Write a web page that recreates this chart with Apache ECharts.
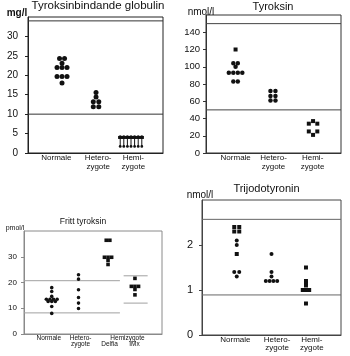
<!DOCTYPE html>
<html><head><meta charset="utf-8">
<script src="https://cdn.jsdelivr.net/npm/echarts@6/dist/echarts.min.js"></script>
<style>html,body{margin:0;padding:0;background:#fff}#c{width:350px;height:356px}</style>
</head><body><div id="c"></div>
<script>
// ---------------- DATA ----------------
// Panel 1: Tyroksinbindande globulin (mg/l)
const tbgCategories = ['Normale', 'Hetero-\nzygote', 'Hemi-\nzygote'];
const tbgNormale = [24.3, 24.3, 23.1, 22, 22, 22, 19.7, 19.7, 19.7, 18];
const tbgHetero = [15.6, 14.4, 13.2, 13.2, 11.9, 11.9];
const tbgHemi = [4, 4, 4, 4, 4, 4, 4];          // under deteksjonsgrensen (< 4)
const tbgRefLines = [10, 34];
const tbgTicks = [0, 5, 10, 15, 20, 25, 30];
const tbgMax = 35;

// Panel 2: Tyroksin (nmol/l)
const t4Categories = ['Normale', 'Hetero-\nzygote', 'Hemi-\nzygote'];
const t4NormaleCircles = [104, 104, 100, 93, 93, 93, 93, 83, 83];
const t4NormaleSquares = [120];
const t4Hetero = [72, 72, 66, 66, 61, 61];
const t4Hemi = [37, 34, 34, 25, 25, 21];
const t4RefLines = [50, 150];
const t4Ticks = [0, 20, 40, 60, 80, 100, 120, 140];
const t4Max = 160;

// Panel 3: Fritt tyroksin (pmol/l)
const ft4Categories = ['Normale', 'Hetero-\nzygote', '\nDelfia', 'Hemizygote', '\nIMx'];
const ft4Normale = [18, 16.5, 14.6, 13.5, 13.5, 13.5, 13.5, 12.6, 12.6, 12.6, 10.7, 8];
const ft4Hetero = [23, 21.3, 17.2, 14.2, 12, 9.9];
const ft4Delfia = [36.4, 36.4, 29.8, 29.8, 29.8, 28.6, 27];
const ft4Imx = [21.6, 18.5, 18.5, 18.5, 17.3, 15.2];
const ft4RefDelfia = [8.2, 20.7];
const ft4RefImx = [12, 22.6];
const ft4Ticks = [0, 10, 20, 30];
const ft4Max = 40;

// Panel 4: Trijodotyronin (nmol/l)
const t3Categories = ['Normale', 'Hetero-\nzygote', 'Hemi-\nzygote'];
const t3NormaleSquares = [2.4, 2.4, 2.3, 2.3, 1.8];
const t3NormaleCircles = [2.1, 2.0, 1.4, 1.4, 1.3];
const t3Hetero = [1.8, 1.4, 1.3, 1.2, 1.2, 1.2, 1.2];
const t3Hemi = [1.5, 1.2, 1.15, 1.1, 1.0, 1.0, 1.0, 0.7];
const t3RefLines = [0.89, 2.57];
const t3Ticks = [0, 1, 2];
const t3Max = 3;

// ---------------- LAYOUT / STYLE ----------------
const INK = '#111';
const FONT = '"Liberation Sans", Arial, sans-serif';

function withOffsets(xPos, values) {
  const counts = {}, seen = {};
  values.forEach(v => counts[v] = (counts[v] || 0) + 1);
  return values.map(v => {
    const k = seen[v] || 0; seen[v] = k + 1;
    return [xPos, v, k - (counts[v] - 1) / 2];
  });
}
function pointSeries(g, xPos, values, shape, size, spacing) {
  return {
    type: 'custom', xAxisIndex: g, yAxisIndex: g, z: 3, silent: true, animation: false,
    data: withOffsets(xPos, values),
    renderItem(params, api) {
      const p = api.coord([api.value(0), api.value(1)]);
      const x = p[0] + api.value(2) * spacing;
      if (shape === 'square') {
        return { type: 'rect', shape: { x: x - size / 2, y: p[1] - size / 2, width: size, height: size }, style: { fill: INK } };
      }
      return { type: 'circle', shape: { cx: x, cy: p[1], r: size / 2 }, style: { fill: INK } };
    }
  };
}
function arrowSeries(g, xPos, values, spacing, len) {
  return {
    type: 'custom', xAxisIndex: g, yAxisIndex: g, z: 3, silent: true, animation: false,
    data: withOffsets(xPos, values),
    renderItem(params, api) {
      const p = api.coord([api.value(0), api.value(1)]);
      const x = p[0] + api.value(2) * spacing;
      return { type: 'group', children: [
        { type: 'rect', shape: { x: x - spacing / 2 - 0.3, y: p[1] - 1.5, width: spacing + 0.6, height: 3 }, style: { fill: INK } },
        { type: 'circle', shape: { cx: x, cy: p[1] - 0.5, r: 1.6 }, style: { fill: INK } },
        { type: 'line', shape: { x1: x, y1: p[1], x2: x, y2: p[1] + len }, style: { stroke: INK, lineWidth: 1 } },
        { type: 'circle', shape: { cx: x, cy: p[1] + len, r: 1.4 }, style: { fill: INK } }
      ]};
    }
  };
}
function refLine(g, x0, x1, v, color) {
  return { type: 'line', xAxisIndex: g, yAxisIndex: g, data: [[x0, v], [x1, v]], symbol: 'none',
    silent: true, animation: false, z: 1, lineStyle: { color, width: 1 } };
}
function xAxisFor(g, cats, labelPos, fontSize, lineHeight, color) {
  const map = {};
  cats.forEach((c, i) => map[labelPos[i]] = c);
  return { type: 'value', gridIndex: g, min: 0, max: 100, interval: 1,
    axisLine: { show: true, lineStyle: { color, width: 1 } }, axisTick: { show: false }, splitLine: { show: false },
    axisLabel: { show: true, margin: 1, fontSize, lineHeight, color: INK, fontFamily: FONT, hideOverlap: false,
      showMinLabel: true, showMaxLabel: true,
      formatter: v => (map[Math.round(v)] !== undefined ? map[Math.round(v)] : '') } };
}
function yAxisFor(g, ticks, max, fontSize, margin, color) {
  return { type: 'value', gridIndex: g, min: ticks[0], max, interval: ticks[1] - ticks[0],
    axisLine: { show: true, lineStyle: { color, width: 1 } },
    axisTick: { show: true, inside: false, length: 3, lineStyle: { color } },
    splitLine: { show: false },
    axisLabel: { fontSize, margin, color: INK, fontFamily: FONT, showMaxLabel: false,
      formatter: v => (ticks.indexOf(v) >= 0 ? String(v) : '') } };
}
function grid(left, top, width, height, color) {
  return { left, top, width, height, show: true, borderColor: color, borderWidth: 1,
    backgroundColor: 'transparent', containLabel: false, outerBoundsMode: 'none' };
}
function text(x, y, s, size, weight) {
  return { type: 'text', x, y, silent: true,
    style: { text: s, fontSize: size, fontWeight: weight || 'normal', fontFamily: FONT, fill: INK, align: 'center', verticalAlign: 'middle' } };
}

const C1 = '#222', C2 = '#333', C3 = '#8a8a8a', C4 = '#444';

const option = {
  animation: false,
  backgroundColor: '#fff',
  grid: [
    grid(28, 17, 135, 136, C1),
    grid(206, 15, 135, 138, C2),
    grid(24, 231, 138, 103, C3),
    grid(202, 200, 139, 135, C4)
  ],
  xAxis: [
    xAxisFor(0, tbgCategories, [21, 52, 78], 8, 8.5, C1),
    xAxisFor(1, t4Categories, [22, 50, 79], 8, 8.5, C2),
    xAxisFor(2, ft4Categories, [18, 41, 62, 75, 80], 6.5, 6, C3),
    xAxisFor(3, t3Categories, [24, 54, 79], 8, 8, C4)
  ],
  yAxis: [
    yAxisFor(0, tbgTicks, tbgMax, 10, 10, C1),
    yAxisFor(1, t4Ticks, t4Max, 9.5, 6, C2),
    yAxisFor(2, ft4Ticks, ft4Max, 8, 7, C3),
    yAxisFor(3, t3Ticks, t3Max, 11, 9, C4)
  ],
  graphic: [
    text(98, 6, 'Tyroksinbindande globulin', 11.5),
    text(17, 13.5, 'mg/l', 10, 'bold'),
    text(273, 7, 'Tyroksin', 11),
    text(201, 12.5, 'nmol/l', 10),
    text(83, 221.5, 'Fritt tyroksin', 8.5),
    text(15, 228.5, 'pmol/l', 7),
    text(266.5, 189, 'Trijodotyronin', 11),
    text(200, 195.5, 'nmol/l', 10)
  ],
  series: [
    // panel 1
    ...tbgRefLines.map(v => refLine(0, 0, 100, v, '#333')),
    pointSeries(0, 25.2, tbgNormale, 'circle', 5, 5),
    pointSeries(0, 50.4, tbgHetero, 'circle', 5, 5.5),
    arrowSeries(0, 76.3, tbgHemi, 3.6, 9),
    // panel 2
    ...t4RefLines.map(v => refLine(1, 0, 100, v, '#444')),
    pointSeries(1, 21.9, t4NormaleCircles, 'circle', 4.5, 4.5),
    pointSeries(1, 21.9, t4NormaleSquares, 'square', 4, 4.5),
    pointSeries(1, 49.6, t4Hetero, 'circle', 4.5, 5),
    pointSeries(1, 79.3, t4Hemi, 'square', 4, 8.5),
    // panel 3
    ...ft4RefDelfia.map(v => refLine(2, 0, 69.5, v, '#a0a0a0')),
    ...ft4RefImx.map(v => refLine(2, 72.2, 89.6, v, '#a0a0a0')),
    pointSeries(2, 20.1, ft4Normale, 'circle', 3.6, 3.6),
    pointSeries(2, 39.5, ft4Hetero, 'circle', 3.6, 3.6),
    pointSeries(2, 60.9, ft4Delfia, 'square', 3.6, 3.6),
    pointSeries(2, 80.4, ft4Imx, 'square', 3.6, 3.6),
    // panel 4
    ...t3RefLines.map(v => refLine(3, 0, 100, v, '#666')),
    pointSeries(3, 25, t3NormaleSquares, 'square', 4, 5),
    pointSeries(3, 25, t3NormaleCircles, 'circle', 4, 5),
    pointSeries(3, 50, t3Hetero, 'circle', 4, 3.8),
    pointSeries(3, 74.8, t3Hemi, 'square', 4, 3.2)
  ]
};

const chart = echarts.init(document.getElementById('c'), null, { renderer: 'canvas' });
chart.setOption(option);
</script>
</body></html>
